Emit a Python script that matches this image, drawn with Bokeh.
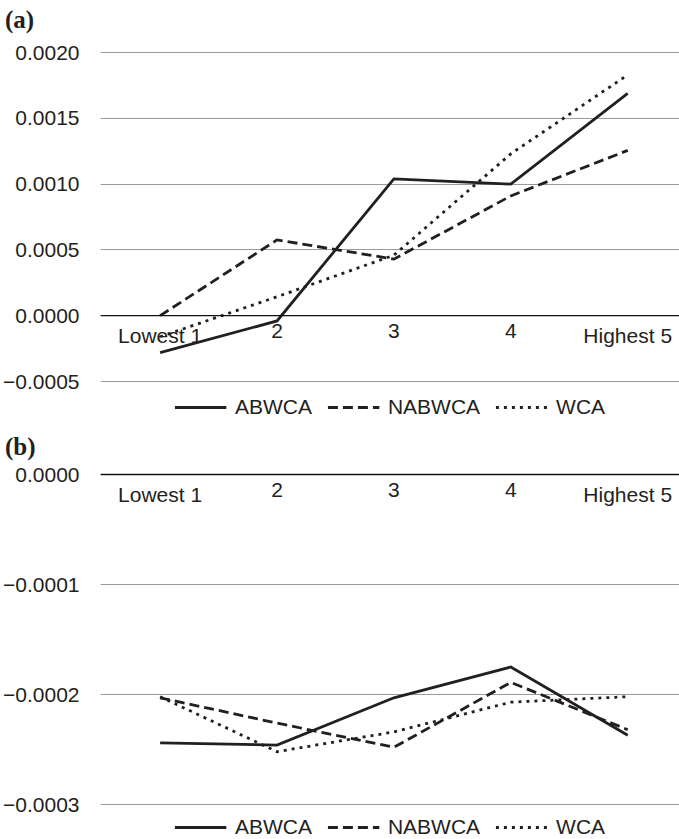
from bokeh.plotting import figure
from bokeh.models import (Legend, LegendItem, FixedTicker, CustomJSTickFormatter,
                          Range1d, Span, ColumnDataSource, Div)
from bokeh.core.properties import value
from bokeh.layouts import column
from bokeh.embed import file_html
from bokeh.resources import INLINE

categories = ["Lowest 1", "2", "3", "4", "Highest 5"]
xpos = [1, 2, 3, 4, 5]

a_abwca = [-0.00028, -0.00004, 0.00104, 0.00100, 0.00169]
a_nabwca = [0.0, 0.000576, 0.00043, 0.00091, 0.001256]
a_wca = [-0.00016, 0.000144, 0.00046, 0.00123, 0.00183]

b_abwca = [-0.000244, -0.000246, -0.000203, -0.000175, -0.000237]
b_nabwca = [-0.000203, -0.000226, -0.000248, -0.000189, -0.000232]
b_wca = [-0.000202, -0.000252, -0.000234, -0.000207, -0.000202]

a_ticks = [-0.0005, 0.0, 0.0005, 0.0010, 0.0015, 0.0020]
b_ticks = [-0.0003, -0.0002, -0.0001, 0.0]

series_names = ["ABWCA", "NABWCA", "WCA"]

FONT = "Liberation Sans"
FS = "21px"
INK = "#231f20"
GRID = "#9a9a9a"
W = 679


def make_title(label, h, pad):
    return Div(text=label, width=W, height=h, margin=0,
               styles={"font-family": "Liberation Serif", "font-weight": "bold",
                       "font-size": "25px", "color": INK, "line-height": "26px",
                       "padding-top": f"{pad}px", "padding-left": "5px"})


def make_panel(ys, ticks, height, gap_top, plot_h, gap_bottom, leg_margin):
    lo, hi = min(ticks), max(ticks)
    per_px = (hi - lo) / plot_h
    yr = Range1d(lo - gap_bottom * per_px, hi + gap_top * per_px)
    p = figure(width=W, height=height, output_backend="svg", toolbar_location=None,
               x_range=Range1d(0.49, 5.443), y_range=yr, x_axis_location=None,
               min_border_left=97, min_border_right=0, min_border_top=0,
               min_border_bottom=0)
    p.outline_line_color = None
    p.background_fill_color = "white"
    p.border_fill_color = "white"

    p.yaxis.ticker = FixedTicker(ticks=ticks)
    p.yaxis.formatter = CustomJSTickFormatter(
        code="return (tick < -1e-12 ? '\u2212' : '') + Math.abs(tick).toFixed(4);")
    p.yaxis.axis_line_color = None
    p.yaxis.major_tick_line_color = None
    p.yaxis.minor_tick_line_color = None
    p.yaxis.major_label_standoff = 15
    p.yaxis.major_label_text_font = FONT
    p.yaxis.major_label_text_font_size = FS
    p.yaxis.major_label_text_color = INK

    p.xgrid.grid_line_color = None
    p.ygrid.ticker = FixedTicker(ticks=ticks)
    p.ygrid.grid_line_color = GRID
    p.ygrid.grid_line_width = 1.2

    # zero line acting as the category axis
    p.add_layout(Span(location=0, dimension="width", line_color="#111111",
                      line_width=1.3))
    src = ColumnDataSource(dict(x=xpos, y=[0] * len(xpos), t=categories))
    p.text(x="x", y="y", text="t", source=src, text_font=value(FONT),
           text_font_size=FS, text_color=INK, text_align="center",
           text_baseline="top", y_offset=8)

    dashes = ["solid", "10 5", "3 5"]
    items = []
    for name, yv, d in zip(series_names, ys, dashes):
        r = p.line(xpos, yv, line_color=INK, line_width=2.8, line_dash=d,
                   line_join="miter")
        items.append(LegendItem(label=name, renderers=[r]))

    leg = Legend(items=items, orientation="horizontal", location="bottom_center",
                 label_text_font=FONT, label_text_font_size=FS,
                 label_text_color=INK, glyph_width=52, glyph_height=24,
                 label_height=24, label_standoff=9, spacing=15,
                 padding=0, margin=leg_margin, border_line_color=None,
                 background_fill_alpha=0)
    p.add_layout(leg)
    return p


ta = make_title("(a)", 40, 7)
pa = make_panel([a_abwca, a_nabwca, a_wca], a_ticks, 393, 12, 329, 52, 14)
tb = make_title("(b)", 29, 1)
pb = make_panel([b_abwca, b_nabwca, b_wca], b_ticks, 377, 12, 330, 35, 0)

layout = column(ta, pa, tb, pb, spacing=0)
open("out.html", "w").write(file_html(layout, INLINE))
